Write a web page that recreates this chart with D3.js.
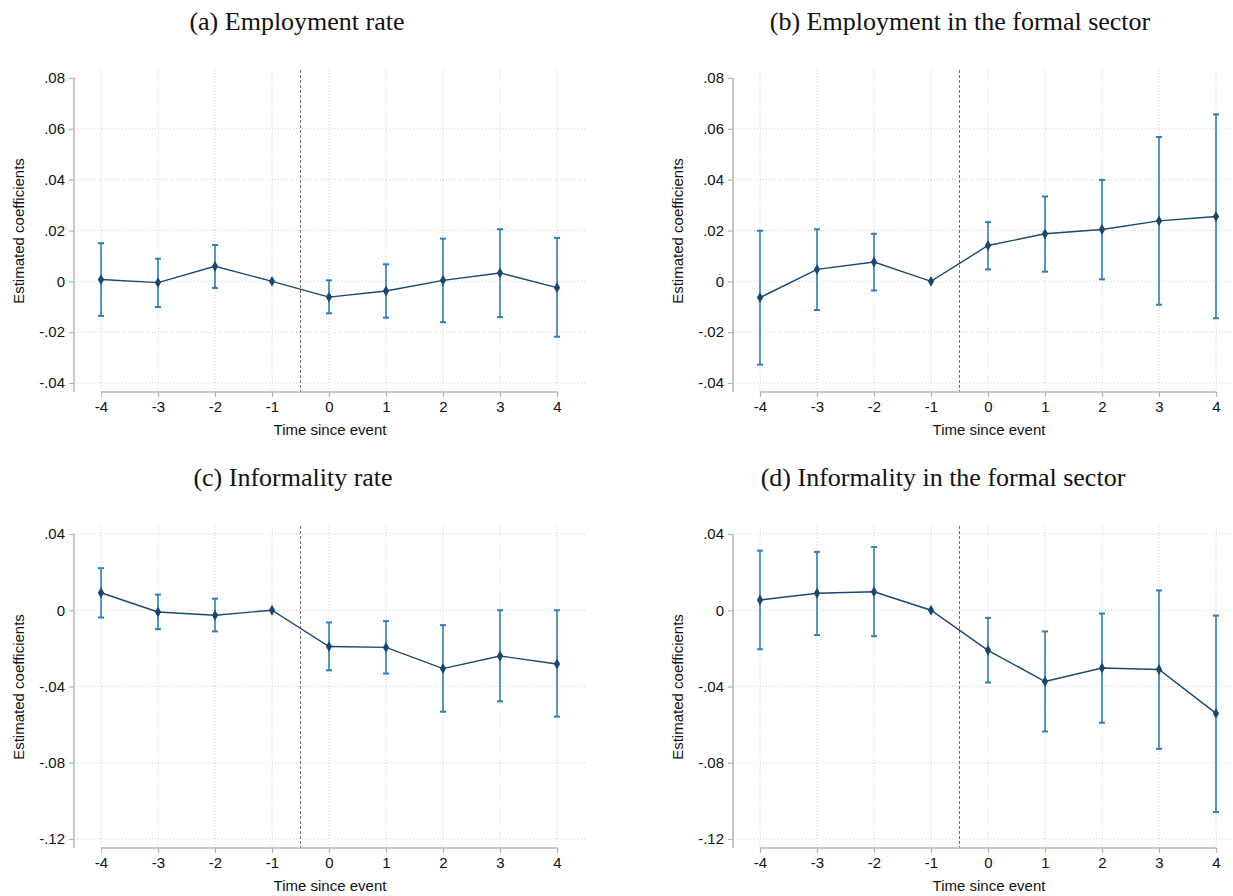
<!DOCTYPE html>
<html><head><meta charset="utf-8">
<script src="https://cdn.jsdelivr.net/npm/d3@7"></script>
<style>
body{margin:0;background:#fff;}
svg{display:block;}
</style></head>
<body>
<svg id="chart" width="1233" height="896"></svg>
<script>
// ---- data ----
const eventTime = [-4, -3, -2, -1, 0, 1, 2, 3, 4];
const xTickLabels = ["-4", "-3", "-2", "-1", "0", "1", "2", "3", "4"];

const titles = ["(a) Employment rate", "(b) Employment in the formal sector",
                "(c) Informality rate", "(d) Informality in the formal sector"];

// (a) Employment rate
const coefA = [0.0007, -0.0005, 0.0059, 0, -0.0062, -0.0038, 0.0004, 0.0033, -0.0025];
const loA   = [-0.0136, -0.0101, -0.0026, null, -0.0126, -0.0143, -0.0161, -0.0141, -0.0218];
const hiA   = [0.0150, 0.0089, 0.0143, null, 0.0004, 0.0067, 0.0168, 0.0205, 0.0171];
// (b) Employment in the formal sector
const coefB = [-0.0064, 0.0047, 0.0076, 0, 0.0141, 0.0187, 0.0204, 0.0238, 0.0255];
const loB   = [-0.0328, -0.0113, -0.0036, null, 0.0047, 0.0038, 0.0008, -0.0092, -0.0145];
const hiB   = [0.0199, 0.0205, 0.0187, null, 0.0233, 0.0334, 0.0399, 0.0568, 0.0657];
// (c) Informality rate
const coefC = [0.0092, -0.0009, -0.0026, 0, -0.0190, -0.0195, -0.0306, -0.0240, -0.0282];
const loC   = [-0.0038, -0.0099, -0.0111, null, -0.0315, -0.0332, -0.0532, -0.0478, -0.0558];
const hiC   = [0.0221, 0.0082, 0.0061, null, -0.0064, -0.0057, -0.0078, 0.0000, 0.0000];
// (d) Informality in the formal sector
const coefD = [0.0054, 0.0089, 0.0097, 0, -0.0210, -0.0374, -0.0303, -0.0311, -0.0541];
const loD   = [-0.0205, -0.0130, -0.0136, null, -0.0379, -0.0636, -0.0590, -0.0727, -0.1059];
const hiD   = [0.0313, 0.0306, 0.0332, null, -0.0040, -0.0111, -0.0017, 0.0104, -0.0028];

const yTicksTop = [-0.04, -0.02, 0, 0.02, 0.04, 0.06, 0.08];
const yTickLabelsTop = ["-.04", "-.02", "0", ".02", ".04", ".06", ".08"];
const yTicksBottom = [-0.12, -0.08, -0.04, 0, 0.04];
const yTickLabelsBottom = ["-.12", "-.08", "-.04", "0", ".04"];

const yTitle = "Estimated coefficients";
const xTitle = "Time since event";
const eventLine = -0.5;

// ---- layout ----
const panels = [
  {title: titles[0], coef: coefA, lo: loA, hi: hiA, ticks: yTicksTop, labels: yTickLabelsTop, ox: 0, oy: 0, tx: 297, topGrid: false},
  {title: titles[1], coef: coefB, lo: loB, hi: hiB, ticks: yTicksTop, labels: yTickLabelsTop, ox: 659, oy: 0, tx: 960, topGrid: false},
  {title: titles[2], coef: coefC, lo: loC, hi: hiC, ticks: yTicksBottom, labels: yTickLabelsBottom, ox: 0, oy: 456, tx: 293, topGrid: true},
  {title: titles[3], coef: coefD, lo: loD, hi: hiD, ticks: yTicksBottom, labels: yTickLabelsBottom, ox: 659, oy: 456, tx: 943, topGrid: true}
];

const svg = d3.select("#chart");
const sans = "'Liberation Sans', Arial, Helvetica, sans-serif";
const serif = "'Liberation Serif', 'Times New Roman', Times, serif";
const lineColor = "#1a476f";
const ciColor = "#2f7dbb";
const axisColor = "#b4b4b4";
const gridColor = "#cfcfcf";

panels.forEach(p => {
  const g = svg.append("g").attr("transform", `translate(${p.ox},${p.oy})`);
  const yAxisX = 74, plotRight = 586, plotTop = 70, xAxisY = 392;
  const x = d3.scaleLinear().domain([-4, 4]).range([101, 557]);
  const y = d3.scaleLinear().domain([p.ticks[0], p.ticks[p.ticks.length - 1]]).range([383, 78]);

  // title
  g.append("text").attr("x", p.tx - p.ox).attr("y", 30)
    .attr("text-anchor", "middle").attr("font-family", serif).attr("font-size", 26)
    .attr("fill", "#111").text(p.title);

  // horizontal grid
  g.append("g").selectAll("line")
    .data(p.ticks.filter((t, i) => p.topGrid || i < p.ticks.length - 1))
    .join("line")
    .attr("x1", yAxisX).attr("x2", plotRight)
    .attr("y1", d => y(d)).attr("y2", d => y(d))
    .attr("stroke", gridColor).attr("stroke-width", 1).attr("stroke-dasharray", "1,2");

  // vertical grid
  g.append("g").selectAll("line").data(eventTime).join("line")
    .attr("x1", d => x(d)).attr("x2", d => x(d))
    .attr("y1", plotTop).attr("y2", xAxisY)
    .attr("stroke", gridColor).attr("stroke-width", 1).attr("stroke-dasharray", "1,2");

  // event line
  g.append("line").attr("x1", x(eventLine)).attr("x2", x(eventLine))
    .attr("y1", plotTop).attr("y2", xAxisY)
    .attr("stroke", "#707070").attr("stroke-width", 1).attr("stroke-dasharray", "3,2");

  // y axis
  const yAxis = d3.axisLeft(y).tickValues(p.ticks).tickSize(5).tickPadding(4)
    .tickFormat((d, i) => p.labels[i]);
  const ya = g.append("g").attr("transform", `translate(${yAxisX},0)`).call(yAxis);
  ya.select(".domain").attr("stroke", axisColor).attr("stroke-width", 1.5).attr("d", `M0,${y(p.ticks[p.ticks.length-1])}V${xAxisY}`);
  ya.selectAll(".tick line").attr("stroke", axisColor).attr("stroke-width", 1.2);
  ya.selectAll(".tick text").attr("font-family", sans).attr("font-size", 15).attr("fill", "#111");

  // x axis
  const xAxis = d3.axisBottom(x).tickValues(eventTime).tickSize(5).tickPadding(4)
    .tickFormat((d, i) => xTickLabels[i]);
  const xa = g.append("g").attr("transform", `translate(0,${xAxisY})`).call(xAxis);
  xa.select(".domain").attr("stroke", axisColor).attr("stroke-width", 1.5).attr("d", `M${x(-4)},0H${x(4)}`);
  xa.selectAll(".tick line").attr("stroke", axisColor).attr("stroke-width", 1.2);
  xa.selectAll(".tick text").attr("font-family", sans).attr("font-size", 15).attr("fill", "#111");

  // axis titles
  g.append("text").attr("transform", `translate(24,${(plotTop + xAxisY) / 2}) rotate(-90)`)
    .attr("text-anchor", "middle").attr("font-family", sans).attr("font-size", 15)
    .attr("fill", "#111").text(yTitle);
  g.append("text").attr("x", (yAxisX + plotRight) / 2).attr("y", 435)
    .attr("text-anchor", "middle").attr("font-family", sans).attr("font-size", 15)
    .attr("fill", "#111").text(xTitle);

  const rows = eventTime.map((t, i) => ({t, c: p.coef[i], lo: p.lo[i], hi: p.hi[i]}));
  const ci = rows.filter(r => r.lo !== null);

  // CI bars
  const cg = g.append("g").attr("stroke", ciColor).attr("stroke-width", 1.6).attr("fill", "none");
  cg.selectAll("line.v").data(ci).join("line").attr("class", "v")
    .attr("x1", d => x(d.t)).attr("x2", d => x(d.t))
    .attr("y1", d => y(d.lo)).attr("y2", d => y(d.hi));
  cg.selectAll("line.capl").data(ci).join("line").attr("class", "capl")
    .attr("x1", d => x(d.t) - 3).attr("x2", d => x(d.t) + 3)
    .attr("y1", d => y(d.lo)).attr("y2", d => y(d.lo)).attr("stroke-width", 2);
  cg.selectAll("line.caph").data(ci).join("line").attr("class", "caph")
    .attr("x1", d => x(d.t) - 3).attr("x2", d => x(d.t) + 3)
    .attr("y1", d => y(d.hi)).attr("y2", d => y(d.hi)).attr("stroke-width", 2);

  // line
  g.append("path").datum(rows)
    .attr("d", d3.line().x(d => x(d.t)).y(d => y(d.c)))
    .attr("fill", "none").attr("stroke", lineColor).attr("stroke-width", 1.4);

  // markers
  g.append("g").selectAll("path").data(rows).join("path")
    .attr("transform", d => `translate(${x(d.t)},${y(d.c)})`)
    .attr("d", d3.symbol().type(d3.symbolDiamond).size(34))
    .attr("fill", lineColor);
});
</script>
</body></html>
